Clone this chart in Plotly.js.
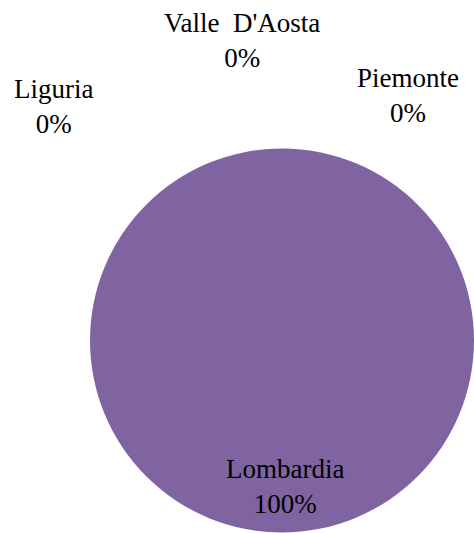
<!DOCTYPE html>
<html>
<head>
<meta charset="utf-8">
<script src="https://cdn.plot.ly/plotly-3.0.1.min.js"></script>
<style>
body{margin:0;font-family:'Liberation Serif',serif}
#chart svg text{font-family:'Liberation Serif',serif !important}
</style>
</head>
<body>
<div id="chart"></div>
<script>
const regions = ["Piemonte", "Valle D\x27Aosta", "Lombardia", "Liguria"];
const shares = [0, 0, 100, 0];
const sliceColors = ["#4F81BD", "#C0504D", "#8064A2", "#9BBB59"];
// label anchor positions (paper fractions) for each region's text
const labelX = [408/474, 242/474, 285/474, 53/474];
const labelY = [1-96/533, 1-40/533, 1-486/533, 1-106/533];

const total = shares.reduce((a, b) => a + b, 0);
const annotations = regions.map((r, i) => ({
  xref: 'paper', yref: 'paper',
  x: labelX[i], y: labelY[i],
  xanchor: 'center', yanchor: 'middle',
  showarrow: false,
  text: r.replace(' ', '\u00a0 ') + '<br>' + Math.round(shares[i] / total * 100) + '%',
  font: {family: 'Liberation Serif', size: 27, color: '#000'}
}));

const trace = {
  type: 'pie',
  labels: regions,
  values: shares,
  sort: false,
  direction: 'clockwise',
  textinfo: 'none',
  marker: {colors: sliceColors, line: {width: 0}},
  domain: {x: [90/474, 1], y: [0, 1-148/533]}
};

Plotly.newPlot('chart', [trace], {
  width: 474, height: 533,
  margin: {l: 0, r: 0, t: 0, b: 0},
  showlegend: false,
  font: {family: 'Liberation Serif', size: 27, color: '#000'},
  annotations: annotations
}, {displayModeBar: false, staticPlot: true});
</script>
</body>
</html>
